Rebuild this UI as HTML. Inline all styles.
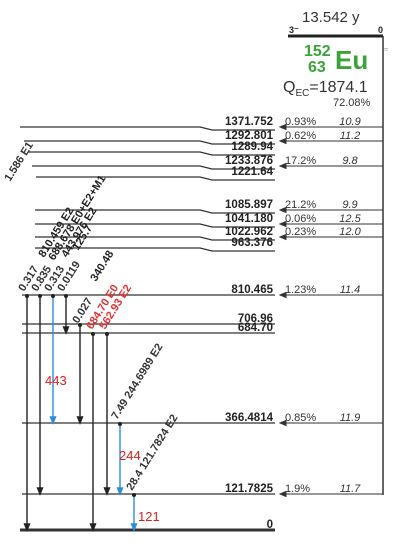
<!DOCTYPE html>
<html><head><meta charset="utf-8"><style>
html,body{margin:0;padding:0;background:#fff;width:400px;height:546px;overflow:hidden}
svg text{font-family:"Liberation Sans",sans-serif}
</style></head><body>
<svg id="chart" width="400" height="546" viewBox="0 0 400 546" xmlns="http://www.w3.org/2000/svg">
<g id="parent">
<text x="302" y="22" font-size="15" fill="#333">13.542 y</text>
<text x="289" y="33" font-size="9" font-weight="bold" fill="#222">3⁻</text>
<text x="378" y="33" font-size="9" font-weight="bold" fill="#222">0</text>
<line x1="288" y1="36" x2="383" y2="36" stroke="#222" stroke-width="3"/>
<text x="304" y="56" font-size="16" font-weight="bold" fill="#3aa43a">152</text>
<text x="308" y="72" font-size="16" font-weight="bold" fill="#3aa43a">63</text>
<text x="335" y="69" font-size="26" font-weight="bold" fill="#3aa43a">Eu</text>
<text x="384" y="52" font-size="8" fill="#999">≈</text>
<text x="283" y="92" font-size="16" fill="#333">Q<tspan font-size="10" dy="4">EC</tspan><tspan dy="-4">=1874.1</tspan></text>
<text x="333" y="106" font-size="11" fill="#333">72.08%</text>
<line x1="383" y1="36" x2="383" y2="495" stroke="#333" stroke-width="1.5"/>
</g>
<g id="levels"></g>
<g id="gammas"></g>
<g id="rot"></g>
<text x="45" y="385" font-size="13" fill="#e02020">443</text>
<text x="119" y="460" font-size="13" fill="#e02020">244</text>
<text x="138" y="521" font-size="13" fill="#e02020">121</text>
</svg>
<script>
const levelEnergies=[1371.752,1292.801,1289.94,1233.876,1221.64,1085.897,1041.180,1022.962,963.376,810.465,706.96,684.70,366.4814,121.7825,0];
const levelLabels=["1371.752","1292.801","1289.94","1233.876","1221.64","1085.897","1041.180","1022.962","963.376","810.465","706.96","684.70","366.4814","121.7825","0"];
const levelYs=[127,141,152,166,177,210,224,237,248,295,324,333,423,494,530];
const feedPct=["0.93%","0.62%","","17.2%","","21.2%","0.06%","0.23%","","1.23%","","","0.85%","1.9%",""];
const feedLogft=["10.9","11.2","","9.8","","9.9","12.5","12.0","","11.4","","","11.9","11.7",""];
const gammaFrom=[810.465,810.465,810.465,810.465,706.96,684.70,684.70,366.4814,121.7825];
const gammaTo=[0,121.7825,366.4814,684.70,366.4814,0,121.7825,121.7825,0];
const gammaBlue=[0,0,1,0,0,0,0,1,1];
const gammaX=[27,40,53,66,80,93,107,120,134];
const NS="http://www.w3.org/2000/svg";
function y(e){return levelYs[levelEnergies.indexOf(e)];}
function mk(t,a,p){const el=document.createElementNS(NS,t);for(const k in a)el.setAttribute(k,a[k]);p.appendChild(el);return el;}
const L=document.getElementById('levels');
levelEnergies.forEach((e,i)=>{
  const yy=y(e);const last=e===0;
  const start=i<9?(i<5?20+i*4:35):22;
  const p=mk('path',{d:last?`M20 ${yy} H275`:`M${start} ${yy} H200 L212 ${yy+(i<9?3:0)} H275`,stroke:'#333','stroke-width':last?3:1.3,fill:'none'},L);
  
  
  const t=mk('text',{x:273,y:yy-2,'font-size':11.5,'font-weight':'bold','text-anchor':'end',fill:'#222'},L);
  t.textContent=levelLabels[i];
  
  
  if(feedPct[i]){
    const a=mk('path',{d:`M383 ${yy} H280 M280 ${yy} l6 -2.5 v5 z`,stroke:'#333','stroke-width':1,fill:'#333'},L);
    
    
    const pt=mk('text',{x:285,y:yy-2,'font-size':11,fill:'#333'},L);pt.textContent=feedPct[i];
    
    
    const lt=mk('text',{x:350,y:yy-2,'font-size':11,'font-style':'italic','text-anchor':'middle',fill:'#333'},L);lt.textContent=feedLogft[i];
    
    
  }
});
const G=document.getElementById('gammas');
gammaFrom.forEach((f,i)=>{
  const x=gammaX[i],y1=y(f),y2=y(gammaTo[i]);const c=gammaBlue[i]?'#2a8fd8':'#222';
  const g=mk('path',{d:`M${x} ${y1} V${y2} M${x} ${y2} l-2.5 -6 h5 z`,stroke:c,'stroke-width':1.4,fill:c},G);
  
  
  mk('circle',{cx:x,cy:y1+1,r:2,fill:'#222'},G);
});
const rotLabels=[["0.317",24,292,"#333"],["0.835",37,292,"#333"],["0.313",50,292,"#333"],["0.0119",63,292,"#333"],["810.459  E2",44,258,"#222"],["688.678  E0+E2+M1",54,261,"#222"],["443.976  E2",67,258,"#222"],["125.7",78,251,"#222"],["0.027",78,324,"#333"],["340.48",96,282,"#222"],["684.70  E0",92,330,"#e03030"],["562.93  E2",105,330,"#e03030"],["7.49  244.6989  E2",117,420,"#333"],["28.4  121.7824  E2",132,491,"#333"],["1.586  E1",10,182,"#333"]];
const R=document.getElementById('rot');
rotLabels.forEach(r=>{
  const t=mk('text',{x:r[1],y:r[2],'font-size':11,'font-weight':'bold',fill:r[3],transform:`rotate(-58 ${r[1]} ${r[2]})`},R);
  t.textContent=r[0];
  
  
});
</script>
</body></html>
